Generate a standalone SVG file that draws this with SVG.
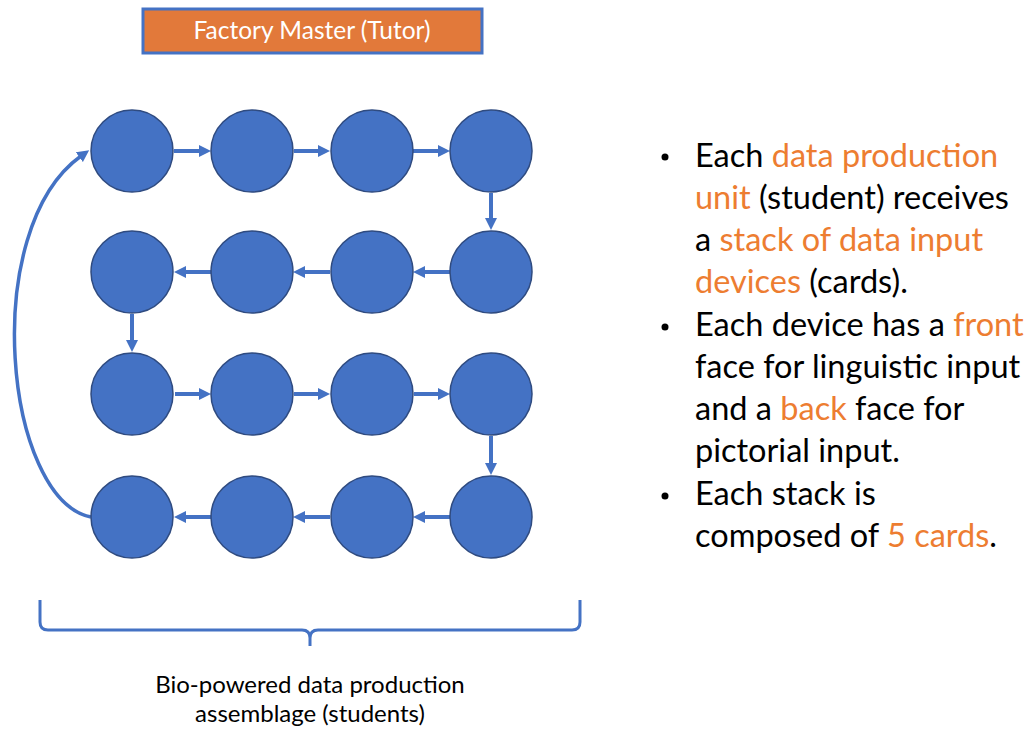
<svg xmlns="http://www.w3.org/2000/svg" width="1029" height="729" viewBox="0 0 1029 729">
<style>
.node{fill:#4472C4;stroke:#2F4B80;stroke-width:1.5}
.conn{stroke:#4472C4;stroke-width:4;fill:none}
.body{font-family:Lato,"Open Sans",sans-serif;font-size:32.5px;fill:#000}
.hl{fill:#ED7D31}
.cap{font-family:Lato,"Open Sans",sans-serif;font-size:24px;fill:#000;text-anchor:middle}
</style>
<defs>
<marker id="ah" viewBox="0 0 12 12" refX="2" refY="6" markerWidth="12" markerHeight="12" orient="auto" markerUnits="userSpaceOnUse">
<path d="M0,0 L12,6 L0,12 z" fill="#4472C4"/>
</marker>
</defs>
<rect width="1029" height="729" fill="#fff"/>
<g id="tutor">
<rect x="143" y="9" width="339" height="44" fill="#E2793A" stroke="#4472C4" stroke-width="3"/>
<text x="312" y="39" font-family="Lato,'Open Sans',sans-serif" font-size="24.5" fill="#fff" text-anchor="middle">Factory Master (Tutor)</text>
</g>
<g id="connectors">
<line class="conn" x1="174" y1="151" x2="201" y2="151" marker-end="url(#ah)"/>
<line class="conn" x1="294" y1="151" x2="320" y2="151" marker-end="url(#ah)"/>
<line class="conn" x1="413" y1="151" x2="440" y2="151" marker-end="url(#ah)"/>
<line class="conn" x1="491" y1="193" x2="491" y2="220" marker-end="url(#ah)"/>
<line class="conn" x1="450" y1="272" x2="423" y2="272" marker-end="url(#ah)"/>
<line class="conn" x1="330" y1="272" x2="303" y2="272" marker-end="url(#ah)"/>
<line class="conn" x1="211" y1="272" x2="184" y2="272" marker-end="url(#ah)"/>
<line class="conn" x1="132" y1="314" x2="132" y2="342" marker-end="url(#ah)"/>
<line class="conn" x1="175" y1="394" x2="201" y2="394" marker-end="url(#ah)"/>
<line class="conn" x1="294" y1="394" x2="320" y2="394" marker-end="url(#ah)"/>
<line class="conn" x1="414" y1="394" x2="440" y2="394" marker-end="url(#ah)"/>
<line class="conn" x1="491" y1="436" x2="491" y2="465" marker-end="url(#ah)"/>
<line class="conn" x1="450" y1="517" x2="423" y2="517" marker-end="url(#ah)"/>
<line class="conn" x1="330" y1="517" x2="303" y2="517" marker-end="url(#ah)"/>
<line class="conn" x1="211" y1="517" x2="184" y2="517" marker-end="url(#ah)"/>
<path class="conn" style="stroke-width:3.5" d="M91,517 C5,500 -22,230 81,156" marker-end="url(#ah)"/>
</g>
<g id="n1"><circle class="node" cx="132" cy="151" r="41"/></g>
<g id="n2"><circle class="node" cx="252" cy="151" r="41"/></g>
<g id="n3"><circle class="node" cx="372" cy="151" r="41"/></g>
<g id="n4"><circle class="node" cx="491" cy="151" r="41"/></g>
<g id="n5"><circle class="node" cx="491" cy="272" r="41"/></g>
<g id="n6"><circle class="node" cx="372" cy="272" r="41"/></g>
<g id="n7"><circle class="node" cx="252" cy="272" r="41"/></g>
<g id="n8"><circle class="node" cx="132" cy="272" r="41"/></g>
<g id="n9"><circle class="node" cx="132" cy="394" r="41"/></g>
<g id="n10"><circle class="node" cx="252" cy="394" r="41"/></g>
<g id="n11"><circle class="node" cx="372" cy="394" r="41"/></g>
<g id="n12"><circle class="node" cx="491" cy="394" r="41"/></g>
<g id="n13"><circle class="node" cx="491" cy="517" r="41"/></g>
<g id="n14"><circle class="node" cx="372" cy="517" r="41"/></g>
<g id="n15"><circle class="node" cx="252" cy="517" r="41"/></g>
<g id="n16"><circle class="node" cx="132" cy="517" r="41"/></g>
<g id="bracket">
<path d="M40,600 V622 Q40,630 48,630 H302 Q310,630 310,638 V646 M310,646 V638 Q310,630 318,630 H572 Q580,630 580,622 V600" fill="none" stroke="#4472C4" stroke-width="3"/>
<text class="cap" x="310" y="693">Bio-powered data production</text>
<text class="cap" x="310" y="722">assemblage (students)</text>
</g>
<g id="bullets">
<circle cx="665" cy="157" r="3.5" fill="#000"/>
<circle cx="665" cy="327" r="3.5" fill="#000"/>
<circle cx="665" cy="496" r="3.5" fill="#000"/>
<text class="body" x="695" y="167">Each <tspan class="hl">data production</tspan></text>
<text class="body" x="695" y="209"><tspan class="hl">unit</tspan> (student) receives</text>
<text class="body" x="695" y="251">a <tspan class="hl">stack of data input</tspan></text>
<text class="body" x="695" y="293"><tspan class="hl">devices</tspan> (cards).</text>
<text class="body" x="695" y="336">Each device has a <tspan class="hl">front</tspan></text>
<text class="body" x="695" y="378">face for linguistic input</text>
<text class="body" x="695" y="420">and a <tspan class="hl">back</tspan> face for</text>
<text class="body" x="695" y="462">pictorial input.</text>
<text class="body" x="695" y="505">Each stack is</text>
<text class="body" x="695" y="547">composed of <tspan class="hl">5 cards</tspan>.</text>
</g>
</svg>
